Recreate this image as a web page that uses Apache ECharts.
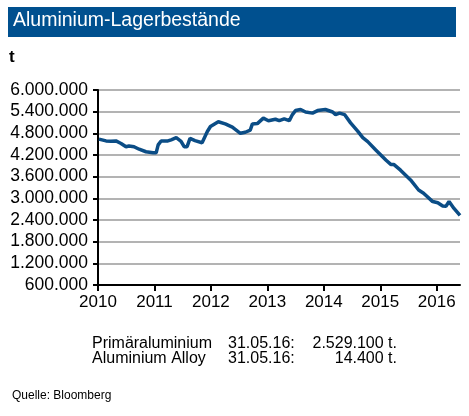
<!DOCTYPE html>
<html>
<head>
<meta charset="utf-8">
<script src="https://cdn.jsdelivr.net/npm/echarts@6/dist/echarts.min.js"></script>
<style>
  html, body { margin: 0; padding: 0; background: #fff; }
  #chart { width: 469px; height: 416px; }
</style>
</head>
<body>
<div id="chart"></div>
<script>
// Lagerbestände Primäraluminium (t)
const dates = [
  '2010-01-07', '2010-02-22', '2010-03-26', '2010-04-27', '2010-05-30', '2010-07-01',
  '2010-07-20', '2010-08-22', '2010-09-24', '2010-11-07', '2010-12-23', '2011-01-12',
  '2011-01-25', '2011-02-13', '2011-03-29', '2011-04-19', '2011-05-22', '2011-06-22',
  '2011-07-12', '2011-07-31', '2011-08-19', '2011-09-20', '2011-11-05', '2011-12-09',
  '2011-12-29', '2012-02-18', '2012-04-03', '2012-05-19', '2012-07-10', '2012-08-11',
  '2012-09-12', '2012-09-26', '2012-10-28', '2012-12-06', '2013-01-08', '2013-02-22',
  '2013-03-19', '2013-04-20', '2013-05-23', '2013-06-12', '2013-07-02', '2013-08-04',
  '2013-09-05', '2013-10-20', '2013-11-22', '2014-01-11', '2014-02-27', '2014-03-18',
  '2014-04-13', '2014-05-15', '2014-06-23', '2014-08-08', '2014-09-10', '2014-10-12',
  '2014-12-03', '2015-02-06', '2015-03-10', '2015-03-29', '2015-05-12', '2015-07-16',
  '2015-09-06', '2015-10-08', '2015-12-06', '2016-01-08', '2016-02-09', '2016-03-01',
  '2016-03-21', '2016-04-22', '2016-05-31'
];
const stocks = [
  4640000, 4590000, 4580000, 4590000, 4520000, 4430000,
  4450000, 4430000, 4360000, 4290000, 4260000, 4260000,
  4480000, 4590000, 4590000, 4620000, 4680000, 4580000,
  4430000, 4430000, 4660000, 4600000, 4540000, 4850000,
  4990000, 5120000, 5060000, 4970000, 4800000, 4830000,
  4890000, 5060000, 5070000, 5220000, 5150000, 5190000,
  5150000, 5200000, 5150000, 5320000, 5430000, 5460000,
  5390000, 5360000, 5430000, 5460000, 5390000, 5320000,
  5360000, 5320000, 5090000, 4860000, 4680000, 4570000,
  4340000, 4060000, 3940000, 3940000, 3780000, 3510000,
  3230000, 3140000, 2910000, 2880000, 2790000, 2780000,
  2910000, 2720000, 2529100
];
const yearTicks = [2010, 2011, 2012, 2013, 2014, 2015, 2016];
const noteLines = [
  ['Primäraluminium', '31.05.16:', '2.529.100 t.'],
  ['Aluminium Alloy', '31.05.16:', '14.400 t.']
];

function toYear(s) {
  const d = new Date(s + 'T00:00:00Z');
  const y = d.getUTCFullYear();
  const start = Date.UTC(y, 0, 1);
  const end = Date.UTC(y + 1, 0, 1);
  return y + (d.getTime() - start) / (end - start);
}

function dots(v) {
  return String(Math.round(v)).replace(/\B(?=(\d{3})+(?!\d))/g, '.');
}

const font = 'Arial, "Liberation Sans", sans-serif';
const seriesData = dates.map((d, i) => [toYear(d), stocks[i]]);

const graphics = [
  { type: 'rect', shape: { x: 8, y: 7, width: 448, height: 30 }, style: { fill: '#00508f' } },
  { type: 'text', left: 13, top: 11, style: { text: 'Aluminium-Lagerbestände', fill: '#fff', font: '19.5px ' + font } },
  { type: 'text', left: 9, top: 49, style: { text: 't', fill: '#000', font: 'bold 17px ' + font } },
  { type: 'text', left: 12, top: 390, style: { text: 'Quelle: Bloomberg', fill: '#000', font: '12px ' + font } }
];
noteLines.forEach((row, i) => {
  const y = 336 + i * 15;
  graphics.push({ type: 'text', x: 92, y: y, style: { text: row[0], fill: '#000', font: '16px ' + font } });
  graphics.push({ type: 'text', x: 228, y: y, style: { text: row[1], fill: '#000', font: '16px ' + font } });
  graphics.push({ type: 'text', x: 397, y: y, style: { text: row[2], fill: '#000', font: '16px ' + font, align: 'right' } });
});

const chart = echarts.init(document.getElementById('chart'));
chart.setOption({
  animation: false,
  grid: { left: 98, right: 9, top: 90, bottom: 131 },
  xAxis: {
    type: 'value',
    min: 2010,
    max: toYear('2016-05-31'),
    interval: 1,
    axisLine: { lineStyle: { color: '#000', width: 2 } },
    axisTick: { customValues: yearTicks, length: 6, lineStyle: { color: '#000', width: 2 } },
    axisLabel: {
      customValues: yearTicks,
      color: '#000', fontSize: 17, fontFamily: font, margin: 9,
      formatter: v => String(Math.round(v))
    },
    splitLine: { show: false }
  },
  yAxis: {
    type: 'value',
    min: 600000,
    max: 6000000,
    interval: 600000,
    axisLine: { show: true, lineStyle: { color: '#000', width: 2 } },
    axisTick: { show: true, length: 5, lineStyle: { color: '#000', width: 2 } },
    axisLabel: { color: '#000', fontSize: 17.5, fontFamily: font, margin: 10, formatter: dots },
    splitLine: { lineStyle: { color: '#b3b3b3', width: 2 } }
  },
  series: [{
    type: 'line',
    data: seriesData,
    showSymbol: false,
    lineStyle: { color: '#0b4d86', width: 3.5 }
  }],
  graphic: graphics
});
</script>
</body>
</html>
